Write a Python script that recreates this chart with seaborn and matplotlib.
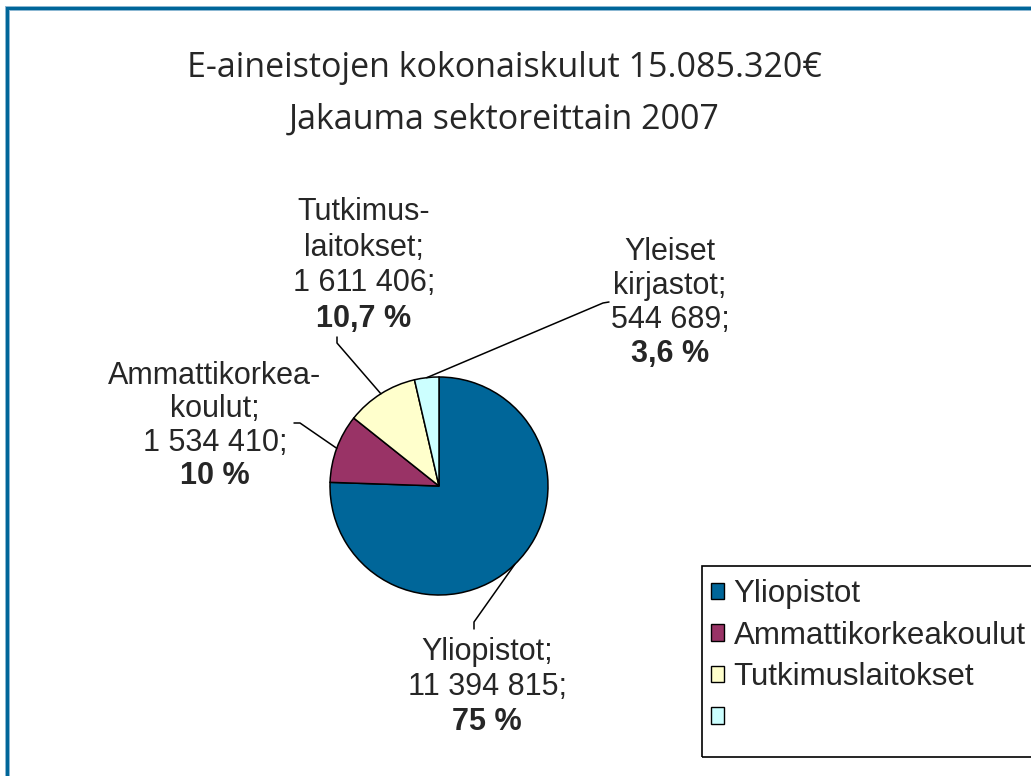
import matplotlib
matplotlib.use("Agg")
import matplotlib.pyplot as plt
import numpy as np
import seaborn as sns
from matplotlib.patches import Rectangle, Patch

# data
sectors = ["Yliopistot", "Ammattikorkeakoulut", "Tutkimuslaitokset", "Yleiset kirjastot"]
costs = [11394815, 1534410, 1611406, 544689]
label_names = ["Yliopistot;", "Ammattikorkea-\nkoulut;", "Tutkimus-\nlaitokset;", "Yleiset\nkirjastot;"]
label_pcts = ["75 %", "10 %", "10,7 %", "3,6 %"]
legend_labels = ["Yliopistot", "Ammattikorkeakoulut", "Tutkimuslaitokset", ""]
colors = ["#006699", "#993366", "#FFFFCC", "#CCFFFF"]
title_lines = ["E-aineistojen kokonaiskulut 15.085.320€", "Jakauma sektoreittain 2007"]

sns.set_theme(style="white")
plt.rcParams['font.family'] = ['Liberation Sans', 'DejaVu Sans']

W, H = 1031, 776
fig = plt.figure(figsize=(W / 100, H / 100), dpi=100)
ax = fig.add_axes([0, 0, 1, 1])

# pie, clockwise from 12 o'clock
cx, cy, r = 439, H - 486, 109
wedges, _ = ax.pie(costs, colors=colors, startangle=90, counterclock=False,
                   center=(cx, cy), radius=r,
                   wedgeprops=dict(edgecolor='black', linewidth=1.1))
ax.set_xlim(0, W)
ax.set_ylim(0, H)
ax.set_aspect('equal')
ax.axis('off')

# label placement (x center, y of first line, line step) and leader ends
label_pos = [(487, 652, 35), (215, 376, 33.3), (364, 212, 35.5), (670, 252, 34)]
leader_ends = [[(474, 622), (474, 629)], [(300, 423), (294, 423)],
               [(337, 343), (337, 337)], [(603, 303), (609, 302)]]

for i, w in enumerate(wedges):
    lines = label_names[i].split("\n") + [f"{costs[i]:,}".replace(",", " ") + ";"]
    x0, y0, dy = label_pos[i]
    for j, t in enumerate(lines):
        ax.text(x0, H - (y0 + j * dy), t, ha='center', va='center', fontsize=22)
    ax.text(x0, H - (y0 + len(lines) * dy), label_pcts[i], ha='center', va='center',
            fontsize=22, fontweight='bold')
    mid = np.deg2rad((w.theta1 + w.theta2) / 2)
    xs = [cx + r * np.cos(mid)] + [p[0] for p in leader_ends[i]]
    ys = [cy + r * np.sin(mid)] + [H - p[1] for p in leader_ends[i]]
    ax.plot(xs, ys, color='black', lw=1.1)

# title
ax.text(504, H - 68, title_lines[0], ha='center', va='center', fontsize=24.5, family='Open Sans')
ax.text(504, H - 120, title_lines[1], ha='center', va='center', fontsize=24.5, family='Open Sans')

# legend
handles = [Patch(facecolor=c, edgecolor='black', linewidth=1.0) for c in colors]
ax.legend(handles, legend_labels, loc='upper left', bbox_to_anchor=(711, H - 579),
          bbox_transform=ax.transData, frameon=False, fontsize=22.5, borderpad=0,
          borderaxespad=0, handlelength=0.42, handleheight=0.42, handletextpad=0.3,
          labelspacing=0.37)
ax.add_patch(Rectangle((702, H - 757), 400, 191, fill=False, edgecolor='black', lw=1.2))

# outer blue frame (right/bottom edges fall outside the picture)
ax.add_patch(Rectangle((6.5, -60), W + 60, H - 7.5 + 60, fill=False, edgecolor='#8fbad4', lw=3.6))
ax.add_patch(Rectangle((6.5, -60), W + 60, H - 7.5 + 60, fill=False, edgecolor='#006699', lw=2.2))

fig.savefig("out.png", dpi=100)
